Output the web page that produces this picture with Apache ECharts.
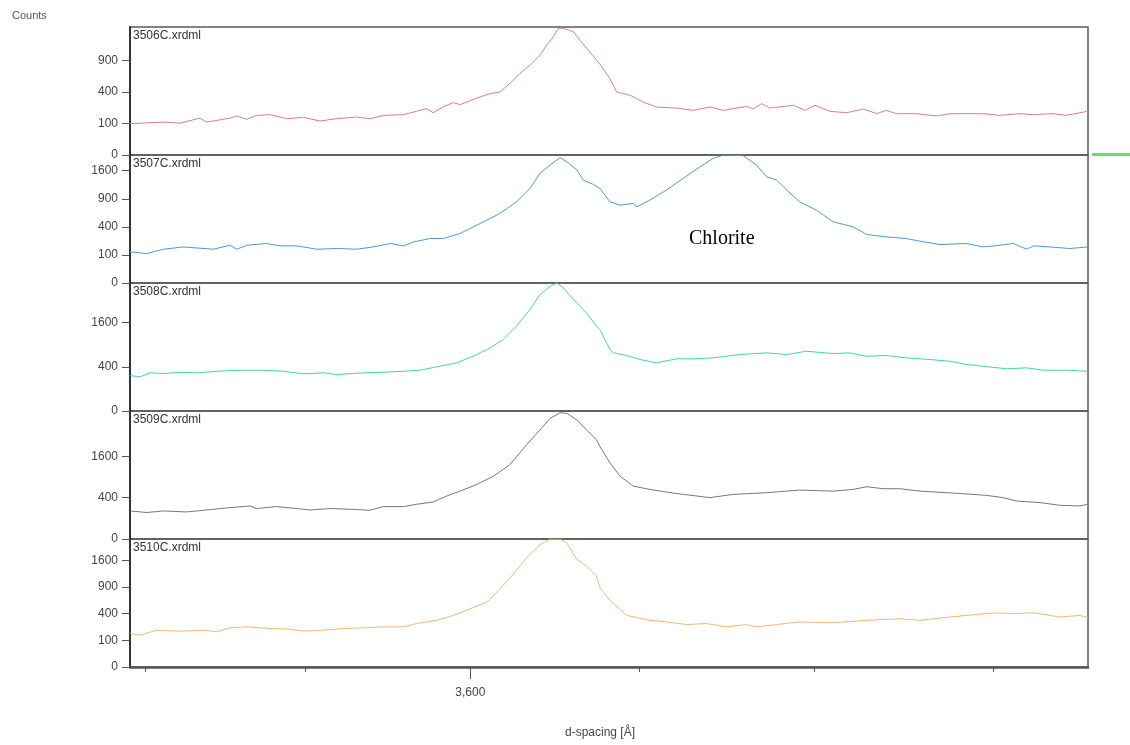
<!DOCTYPE html>
<html><head><meta charset="utf-8">
<script src="https://cdn.jsdelivr.net/npm/echarts@6.0.0/dist/echarts.min.js"></script>
<style>html,body{margin:0;padding:0;background:#fff}#c{width:1130px;height:745px}</style>
</head><body><div id="c"></div>
<script>
// ---- data: [2-theta (deg, Cu Ka), counts] ----
const sampleNames = ['3506C.xrdml','3507C.xrdml','3508C.xrdml','3509C.xrdml','3510C.xrdml'];
const s3506 = [[24.000,99],[24.070,109],[24.104,102],[24.146,137],[24.160,109],[24.209,137],[24.223,153],[24.244,128],[24.264,158],[24.292,164],[24.327,133],[24.362,143],[24.397,116],[24.431,133],[24.473,145],[24.501,133],[24.529,158],[24.571,164],[24.598,192],[24.619,216],[24.633,180],[24.654,232],[24.675,276],[24.689,256],[24.724,327],[24.752,380],[24.772,400],[24.793,514],[24.814,669],[24.835,812],[24.856,1004],[24.870,1216],[24.884,1407],[24.894,1615],[24.905,1615],[24.926,1529],[24.939,1330],[24.960,1071],[24.981,830],[25.002,589],[25.016,400],[25.044,359],[25.071,283],[25.099,232],[25.141,222],[25.176,201],[25.211,232],[25.239,201],[25.287,238],[25.301,216],[25.319,266],[25.336,222],[25.385,249],[25.409,201],[25.430,249],[25.461,192],[25.496,180],[25.531,213],[25.559,172],[25.579,201],[25.600,172],[25.642,172],[25.684,153],[25.712,172],[25.781,172],[25.816,158],[25.858,172],[25.886,164],[25.927,172],[25.955,158],[25.983,180],[26.000,192]];
const s3507 = [[24.000,123],[24.035,110],[24.070,145],[24.111,165],[24.139,156],[24.174,145],[24.209,181],[24.223,145],[24.244,181],[24.285,198],[24.313,175],[24.348,175],[24.390,145],[24.431,151],[24.473,145],[24.508,165],[24.543,198],[24.571,175],[24.592,214],[24.626,251],[24.654,251],[24.689,311],[24.717,400],[24.752,529],[24.772,614],[24.807,837],[24.835,1136],[24.856,1526],[24.877,1767],[24.898,1993],[24.912,1867],[24.933,1622],[24.946,1346],[24.967,1235],[24.981,1136],[25.002,837],[25.023,771],[25.051,804],[25.058,736],[25.085,872],[25.120,1096],[25.155,1390],[25.190,1716],[25.218,1973],[25.239,2080],[25.280,2058],[25.308,1767],[25.329,1433],[25.350,1346],[25.371,1096],[25.398,837],[25.433,674],[25.468,475],[25.510,400],[25.538,299],[25.579,270],[25.621,251],[25.649,222],[25.691,188],[25.746,198],[25.781,165],[25.816,181],[25.844,198],[25.872,145],[25.886,175],[25.920,165],[25.962,151],[26.000,165]];
const s3508 = [[24.000,258],[24.021,239],[24.042,298],[24.070,288],[24.104,308],[24.139,298],[24.181,324],[24.230,341],[24.278,341],[24.320,324],[24.362,283],[24.404,298],[24.431,273],[24.487,298],[24.529,308],[24.571,324],[24.605,341],[24.640,400],[24.682,475],[24.724,654],[24.752,818],[24.779,1047],[24.807,1473],[24.835,2109],[24.856,2779],[24.877,3190],[24.891,3364],[24.905,3105],[24.926,2547],[24.953,1973],[24.974,1473],[24.981,1360],[25.002,774],[25.009,693],[25.037,631],[25.065,543],[25.099,475],[25.141,558],[25.176,558],[25.218,580],[25.273,654],[25.329,693],[25.371,654],[25.412,732],[25.468,677],[25.503,693],[25.538,615],[25.579,631],[25.621,580],[25.670,543],[25.712,508],[25.746,443],[25.781,411],[25.830,365],[25.872,382],[25.907,341],[25.955,341],[26.000,324]];
const s3509 = [[24.000,185],[24.035,165],[24.070,185],[24.118,172],[24.160,198],[24.209,232],[24.251,256],[24.264,218],[24.306,247],[24.348,218],[24.376,198],[24.418,218],[24.459,208],[24.501,194],[24.529,247],[24.571,247],[24.598,283],[24.633,322],[24.661,433],[24.689,539],[24.724,699],[24.759,927],[24.793,1300],[24.828,2086],[24.856,2797],[24.877,3422],[24.898,3745],[24.912,3709],[24.933,3328],[24.953,2797],[24.974,2311],[24.981,2013],[25.002,1360],[25.023,927],[25.051,656],[25.085,578],[25.120,517],[25.155,468],[25.211,402],[25.259,468],[25.329,504],[25.398,562],[25.468,539],[25.510,578],[25.538,642],[25.573,594],[25.607,594],[25.649,539],[25.705,504],[25.760,468],[25.788,447],[25.823,402],[25.851,339],[25.900,311],[25.941,267],[25.983,256],[26.000,283]];
const s3510 = [[24.000,159],[24.021,143],[24.056,191],[24.104,181],[24.153,191],[24.181,175],[24.209,216],[24.244,227],[24.292,209],[24.334,202],[24.362,181],[24.404,191],[24.445,209],[24.487,216],[24.529,227],[24.571,227],[24.598,266],[24.640,307],[24.675,375],[24.710,477],[24.745,592],[24.772,856],[24.800,1212],[24.828,1680],[24.856,2109],[24.877,2306],[24.898,2306],[24.912,2167],[24.933,1630],[24.953,1436],[24.974,1168],[24.981,893],[25.002,621],[25.037,375],[25.085,307],[25.120,286],[25.162,254],[25.204,266],[25.245,227],[25.287,254],[25.308,227],[25.350,254],[25.398,286],[25.468,276],[25.538,307],[25.607,329],[25.649,307],[25.712,352],[25.746,375],[25.802,411],[25.851,403],[25.886,415],[25.941,352],[25.983,375],[26.000,340]];
const yMaxCounts = [1650, 2080, 3360, 3850, 2310];
const yTickCounts = [[0,100,400,900],[0,100,400,900,1600],[0,400,1600],[0,400,1600],[0,100,400,900,1600]];
const dTicks = [3.70, 3.65, 3.60, 3.55, 3.50, 3.45];
const dLabelled = [3.60];
const xRange = [24.0, 26.0];
const annotationText = 'Chlorite';

// ---- presentation ----
const series = [s3506, s3507, s3508, s3509, s3510];
const colors = ['#dc7f7f', '#4a9ad6', '#3fd6a6', '#777777', '#f0b676'];
const LAMBDA = 1.5406;
const toTwoTheta = d => 2 * Math.asin(LAMBDA / (2 * d)) * 180 / Math.PI;
const font = "'Liberation Sans', Arial, sans-serif";
const L = 130, R = 42, TOP = 27, PH = 128;

const grids = [], xAxes = [], yAxes = [], seriesOpt = [], graphics = [];
series.forEach((s, i) => {
  grids.push({left: L, right: R, top: TOP + i * PH, height: PH, show: true,
    borderColor: '#5a5a5a', borderWidth: 1.5, containLabel: false});
  const last = i === series.length - 1;
  xAxes.push({gridIndex: i, type: 'value', min: xRange[0], max: xRange[1], position: 'bottom',
    show: last,
    axisLine: {show: last, onZero: false, lineStyle: {color: '#555', width: 2.5}},
    axisTick: {show: last, inside: false, length: 5, customValues: dTicks.map(toTwoTheta), lineStyle: {color: '#555', width: 1}},
    axisLabel: {show: false}, splitLine: {show: false}});
  const tv = yTickCounts[i].map(Math.sqrt);
  yAxes.push({gridIndex: i, type: 'value', min: 0, max: Math.sqrt(yMaxCounts[i]),
    axisLine: {show: true, onZero: false, lineStyle: {color: '#333', width: 2}},
    axisTick: {show: true, inside: false, length: 8, customValues: tv, lineStyle: {color: '#555', width: 1}},
    axisLabel: {show: true, customValues: tv, margin: 12, fontSize: 12, color: '#444', fontFamily: font,
      formatter: v => String(Math.round(v * v))},
    splitLine: {show: false}});
  seriesOpt.push({type: 'line', xAxisIndex: i, yAxisIndex: i, showSymbol: false, silent: true,
    data: s.map(p => [p[0], Math.sqrt(p[1])]),
    lineStyle: {color: colors[i], width: 1}, itemStyle: {color: colors[i]}});
  graphics.push({type: 'text', left: L + 3, top: TOP + i * PH + 3, silent: true,
    style: {text: sampleNames[i], fill: '#333', font: '12px ' + font}});
});
// major tick + label on bottom axis
xAxes.push({gridIndex: series.length - 1, type: 'value', min: xRange[0], max: xRange[1], position: 'bottom',
  axisLine: {show: false},
  axisTick: {show: true, length: 12, customValues: dLabelled.map(toTwoTheta), lineStyle: {color: '#555', width: 1}},
  axisLabel: {show: true, customValues: dLabelled.map(toTwoTheta), margin: 20, fontSize: 12, color: '#444', fontFamily: font,
    formatter: v => { const d = dLabelled.find(dd => Math.abs(toTwoTheta(dd) - v) < 1e-6); return d.toFixed(3).replace('.', ','); }},
  splitLine: {show: false}});

graphics.push({type: 'text', left: 12, top: 10, style: {text: 'Counts', fill: '#555', font: '11px ' + font}});
graphics.push({type: 'text', left: 565, top: 727, style: {text: 'd-spacing [Å]', fill: '#444', font: '12px ' + font}});
graphics.push({type: 'text', left: 689, top: 229, style: {text: annotationText, fill: '#000', font: "20px 'Liberation Serif', 'Times New Roman', serif"}});
graphics.push({type: 'line', shape: {x1: 1092, y1: 154.5, x2: 1130, y2: 154.5}, style: {stroke: '#66e066', lineWidth: 3}});

const chart = echarts.init(document.getElementById('c'), null, {renderer: 'canvas'});
chart.setOption({animation: false, backgroundColor: '#fff', grid: grids, xAxis: xAxes, yAxis: yAxes, series: seriesOpt, graphic: graphics});
</script></body></html>
